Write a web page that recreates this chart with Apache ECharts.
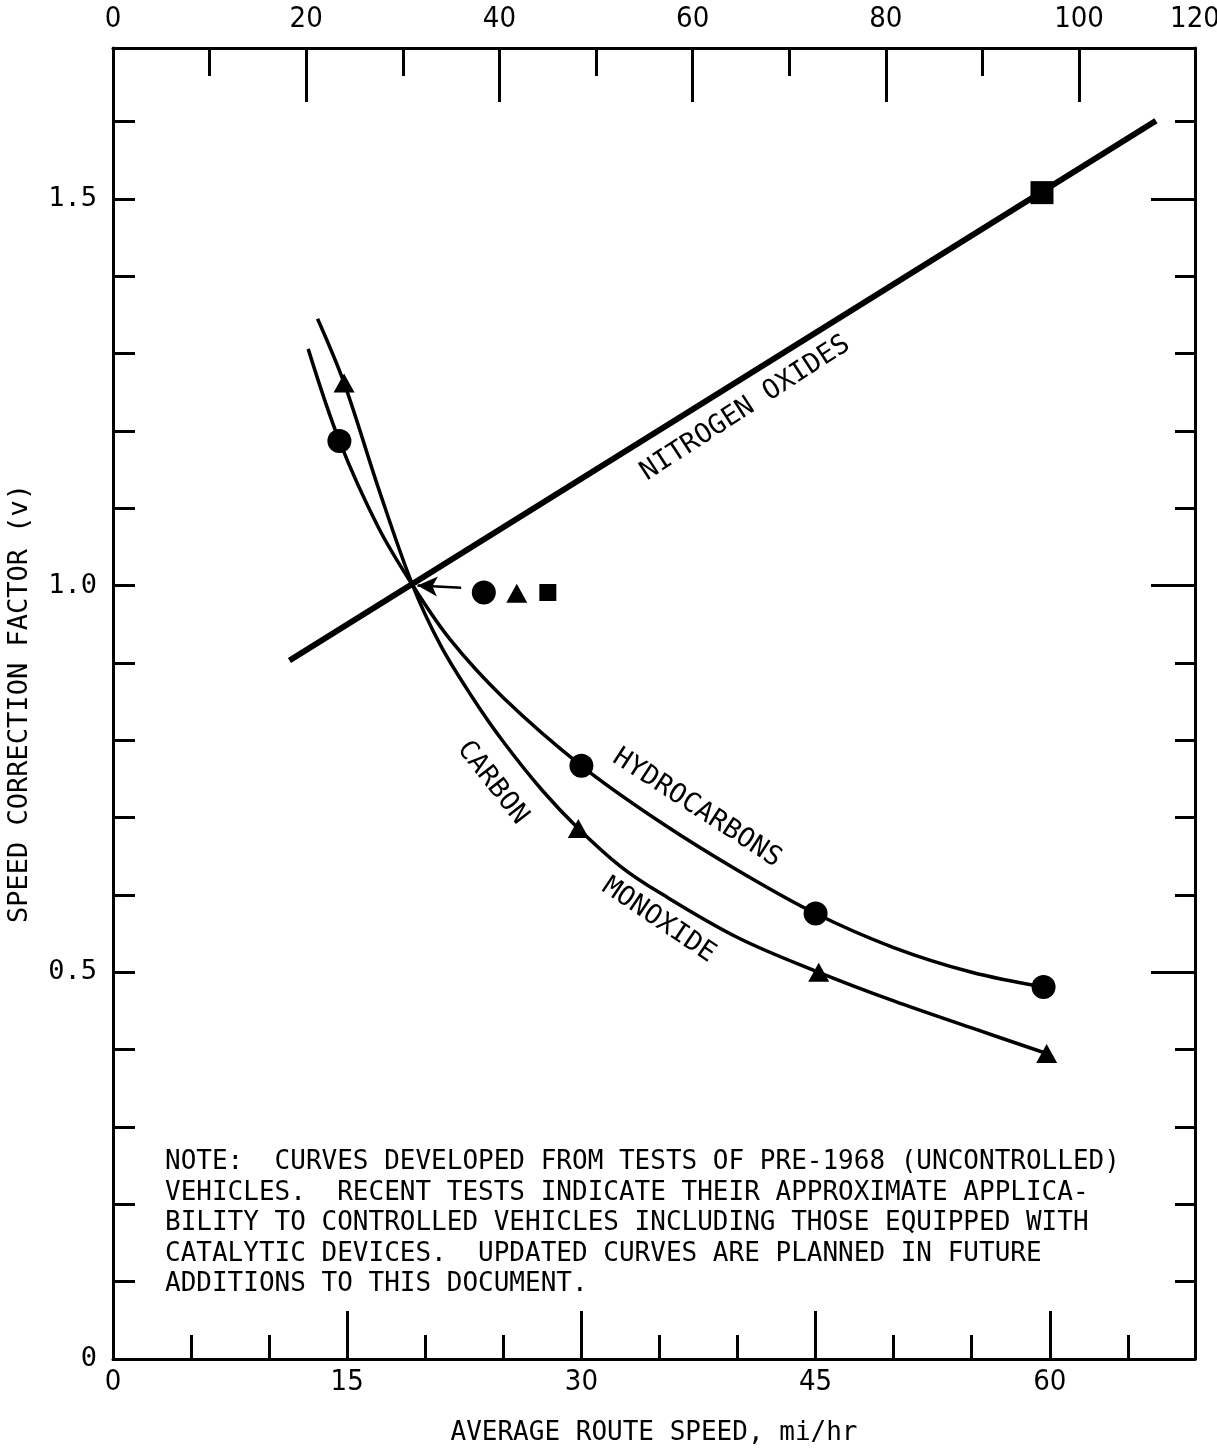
<!DOCTYPE html>
<html>
<head>
<meta charset="utf-8">
<script src="https://cdn.jsdelivr.net/npm/echarts@6/dist/echarts.min.js"></script>
<style>
html,body{margin:0;padding:0;background:#fff;}
#c{width:1217px;height:1449px;}
</style>
</head>
<body>
<div id="c"></div>
<script>
// ---------- axis extents & tick labels ----------
const MPH_MAX = 69.3;          // bottom axis, mi/hr
const KMH_MAX = 112;           // top axis, km/hr
const V_MAX = 1.695;           // speed correction factor
const mphLabels = [0, 15, 30, 45, 60];
const kmhLabels = [0, 20, 40, 60, 80, 100];
const kmhMinorTicks = [10, 30, 50, 70, 90];
const kmhCornerLabel = '120';
const vLabelValues = [0, 0.5, 1.0, 1.5];
const vLabelTexts = ['0', '0.5', '1.0', '1.5'];

// ---------- series values [mi/hr, factor] ----------
const noxLine = [[11.3, 0.903], [66.8, 1.601]];
const noxPoints = [[59.5, 1.508]];

const hcCurve = [[12.5, 1.306], [14.5, 1.187], [17, 1.075], [19.2, 1.0], [21.6, 0.93], [25, 0.855],
  [30, 0.767], [35, 0.695], [40, 0.632], [45, 0.576], [50, 0.532], [55, 0.5], [59.6, 0.481]];
const hcPoints = [[14.5, 1.187], [30, 0.767], [45, 0.576], [59.6, 0.481]];

const coCurve = [[13.1, 1.345], [14.8, 1.262], [17, 1.126], [19.2, 1.0], [21, 0.922], [23, 0.856],
  [25, 0.798], [27.5, 0.735], [29.8, 0.686], [32.5, 0.637], [35, 0.603], [40, 0.545], [45.2, 0.5],
  [50, 0.463], [55, 0.428], [59.8, 0.395]];
const coPoints = [[14.8, 1.262], [29.8, 0.686], [45.2, 0.5], [59.8, 0.395]];

// key symbols beside the common point, and the arrow to it
const keyX = [23.75, 25.86, 27.85];
const keyY = [0.991, 0.99, 0.991];
const keySymbols = ['circle', 'triangle', 'rect'];
const arrowFrom = [22.3, 0.997];
const arrowTo = [19.5, 1.0];

// curve labels
const curveLabelTexts = ['NITROGEN OXIDES', 'HYDROCARBONS', 'CARBON', 'MONOXIDE'];
const curveLabelAnchors = [[40.5, 1.229], [37.4, 0.712], [24.3, 0.745], [34.95, 0.567]];
const curveLabelAngles = [33, -33, -52, -34];

const noteLines = [
  'NOTE:  CURVES DEVELOPED FROM TESTS OF PRE-1968 (UNCONTROLLED)',
  'VEHICLES.  RECENT TESTS INDICATE THEIR APPROXIMATE APPLICA-',
  'BILITY TO CONTROLLED VEHICLES INCLUDING THOSE EQUIPPED WITH',
  'CATALYTIC DEVICES.  UPDATED CURVES ARE PLANNED IN FUTURE',
  'ADDITIONS TO THIS DOCUMENT.'
];
const xAxisName = 'AVERAGE ROUTE SPEED, mi/hr';
const yAxisName = 'SPEED CORRECTION FACTOR (v)';

// ---------- styles ----------
const INK = '#000';
const MONO = "'DejaVu Sans Mono', monospace";
const NARROW = "'Liberation Sans Narrow', 'DejaVu Sans Condensed', 'DejaVu Sans', sans-serif";
const lineW = 3;

function baseAxis(extra) {
  return Object.assign({
    type: 'value',
    splitLine: {show: false},
    axisLine: {show: true, onZero: false, lineStyle: {color: INK, width: lineW}},
    axisTick: {show: true, inside: true, lineStyle: {color: INK, width: lineW}},
    axisLabel: {show: false}
  }, extra);
}
const near = (a, b) => Math.abs(a - b) < 1e-6;

const chart = echarts.init(document.getElementById('c'), null, {renderer: 'canvas'});

const option = {
  backgroundColor: '#fff',
  animation: false,
  grid: {left: 113, right: 22, top: 48, bottom: 90, containLabel: false, outerBoundsMode: 'none'},
  xAxis: [
    baseAxis({
      position: 'bottom', min: 0, max: MPH_MAX, interval: 15,
      axisTick: {show: true, inside: true, length: 48, lineStyle: {color: INK, width: lineW}},
      axisLabel: {
        show: true, margin: 9, color: INK, fontFamily: NARROW, fontSize: 29,
        showMaxLabel: false,
        formatter: v => mphLabels.some(m => near(m, v)) ? String(v) : ''
      },
      name: xAxisName, nameLocation: 'middle', nameGap: 61,
      nameTextStyle: {color: INK, fontFamily: MONO, fontSize: 26}
    }),
    baseAxis({
      position: 'bottom', min: 0, max: MPH_MAX, interval: 5,
      axisLine: {show: false, onZero: false},
      axisTick: {show: true, inside: true, length: 24, lineStyle: {color: INK, width: lineW}}
    }),
    baseAxis({
      position: 'top', min: 0, max: KMH_MAX, interval: 20,
      axisTick: {show: true, inside: true, length: 54, lineStyle: {color: INK, width: lineW}},
      axisLabel: {
        show: true, margin: 14, color: INK, fontFamily: NARROW, fontSize: 29,
        showMaxLabel: true,
        formatter: v => near(v, KMH_MAX) ? kmhCornerLabel : (kmhLabels.some(k => near(k, v)) ? String(v) : '')
      }
    }),
    baseAxis({
      position: 'top', min: 0, max: KMH_MAX,
      axisLine: {show: false, onZero: false},
      axisTick: {show: true, inside: true, length: 28, customValues: kmhMinorTicks, lineStyle: {color: INK, width: lineW}}
    })
  ],
  yAxis: [
    baseAxis({
      position: 'left', min: 0, max: V_MAX, interval: 0.1,
      axisTick: {show: true, inside: true, length: 22, lineStyle: {color: INK, width: lineW}},
      axisLabel: {
        show: true, margin: 16, color: INK, fontFamily: MONO, fontSize: 27,
        showMaxLabel: false,
        formatter: v => {
          const i = vLabelValues.findIndex(t => near(t, v));
          return i >= 0 ? vLabelTexts[i] : '';
        }
      },
      name: yAxisName, nameLocation: 'middle', nameGap: 80, nameRotate: 90,
      nameTextStyle: {color: INK, fontFamily: MONO, fontSize: 27}
    }),
    baseAxis({
      position: 'right', min: 0, max: V_MAX, interval: 0.5,
      axisTick: {show: true, inside: true, length: 44, lineStyle: {color: INK, width: lineW}}
    }),
    baseAxis({
      position: 'right', min: 0, max: V_MAX, interval: 0.1,
      axisLine: {show: false, onZero: false},
      axisTick: {show: true, inside: true, length: 20, lineStyle: {color: INK, width: lineW}}
    })
  ],
  series: [
    {
      name: 'NITROGEN OXIDES line', type: 'line', data: noxLine, showSymbol: false, symbol: 'none',
      lineStyle: {color: INK, width: 6}, z: 3
    },
    {
      name: 'NITROGEN OXIDES', type: 'scatter', data: noxPoints, symbol: 'rect', symbolSize: 23,
      itemStyle: {color: INK, opacity: 1}, z: 5
    },
    {
      name: 'HYDROCARBONS line', type: 'line', data: hcCurve, smooth: 0.35,
      showSymbol: false, symbol: 'none', lineStyle: {color: INK, width: 3.5}, z: 3
    },
    {
      name: 'HYDROCARBONS', type: 'scatter', data: hcPoints, symbol: 'circle', symbolSize: 24,
      itemStyle: {color: INK, opacity: 1}, z: 5
    },
    {
      name: 'CARBON MONOXIDE line', type: 'line', data: coCurve, smooth: 0.35,
      showSymbol: false, symbol: 'none', lineStyle: {color: INK, width: 3.5}, z: 3
    },
    {
      name: 'CARBON MONOXIDE', type: 'scatter', data: coPoints, symbol: 'triangle', symbolSize: [21, 19],
      itemStyle: {color: INK, opacity: 1}, z: 5
    },
    {
      name: 'key', type: 'scatter',
      data: keyX.map((x, i) => ({
        value: [x, keyY[i]], symbol: keySymbols[i],
        symbolSize: keySymbols[i] === 'circle' ? 24 : (keySymbols[i] === 'triangle' ? [21, 19] : 17)
      })),
      itemStyle: {color: INK, opacity: 1}, z: 5,
      markLine: {
        silent: true, symbol: ['none', 'arrow'], symbolSize: [15, 20],
        lineStyle: {color: INK, width: 2.5, type: 'solid', opacity: 1}, label: {show: false},
        data: [[{coord: arrowFrom}, {coord: arrowTo}]]
      }
    },
    {
      name: 'labels', type: 'scatter', symbolSize: 1, itemStyle: {color: 'rgba(0,0,0,0)', opacity: 1}, z: 6,
      data: curveLabelTexts.map((t, i) => ({
        value: curveLabelAnchors[i],
        label: {show: true, formatter: t, rotate: curveLabelAngles[i]}
      })),
      label: {show: true, position: 'inside', color: INK, opacity: 1, fontFamily: MONO, fontSize: 27, align: 'center', verticalAlign: 'middle'}
    }
  ],
  graphic: [
    {
      type: 'text', left: 165, top: 1147, z: 10,
      style: {text: noteLines.join('\n'), fill: INK, font: '26px ' + MONO, lineHeight: 30.5}
    }
  ]
};
chart.setOption(option);
</script>
</body>
</html>
